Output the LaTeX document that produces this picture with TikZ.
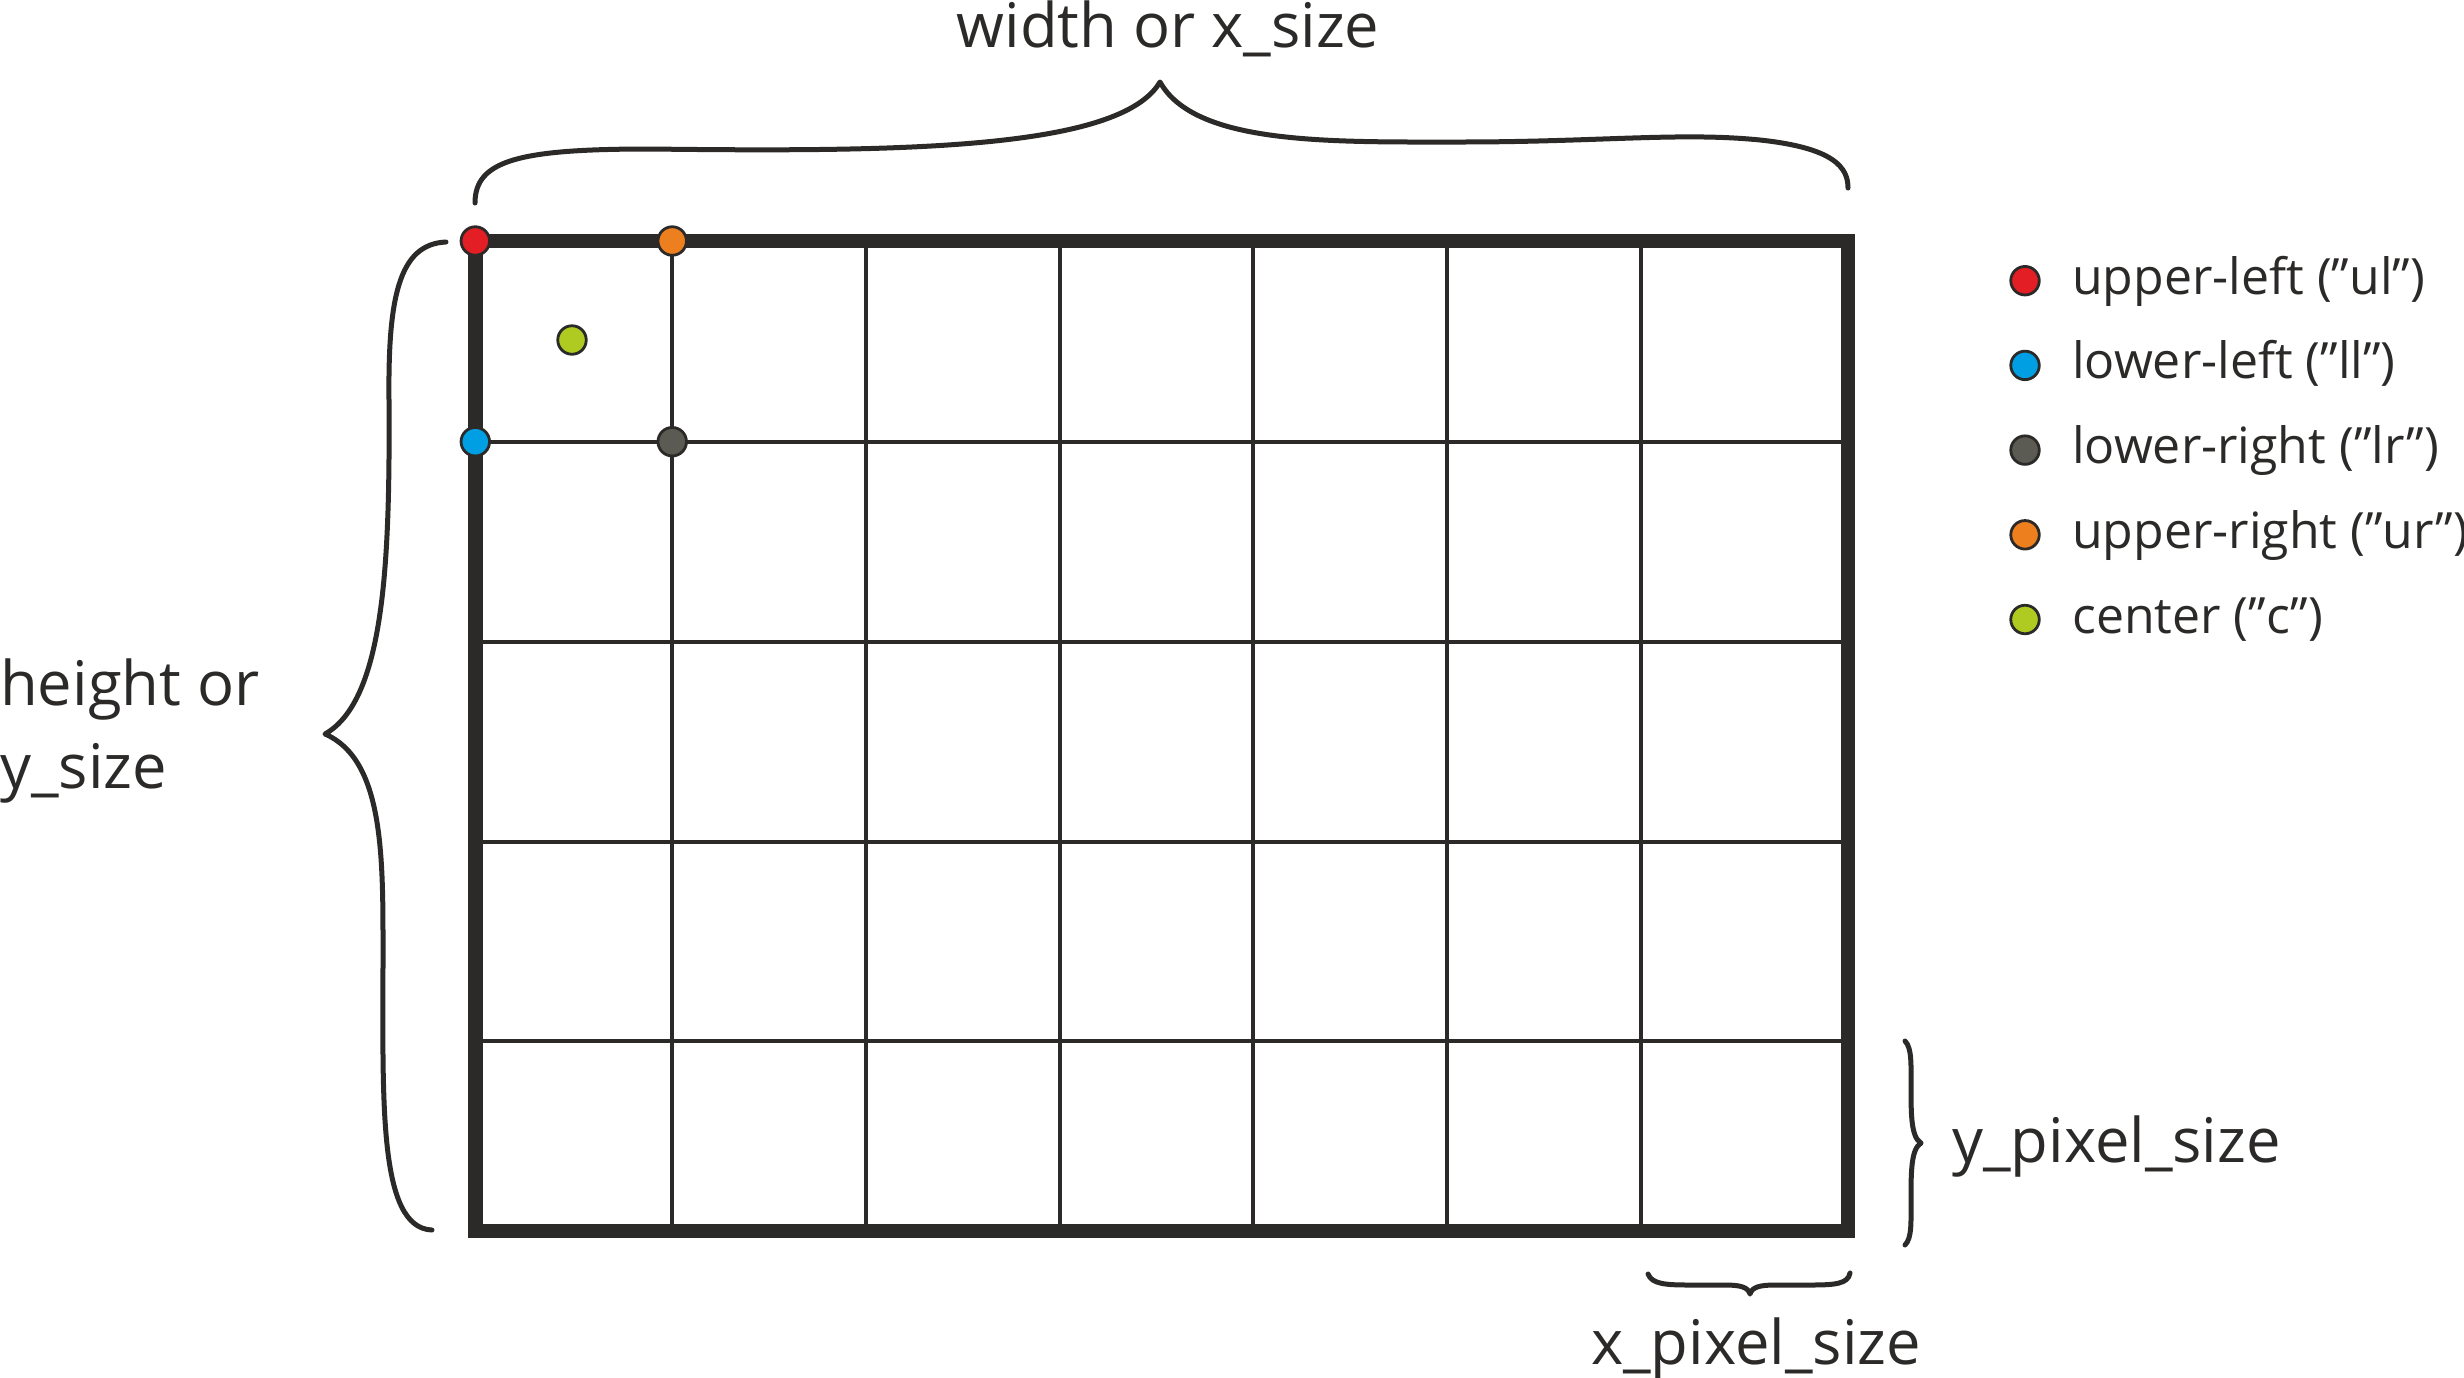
\documentclass[tikz,border=0pt]{standalone}
\usepackage{fontspec}
\setmainfont{Open Sans}
\definecolor{ink}{HTML}{2B2A28}
\definecolor{cred}{HTML}{E31E24}
\definecolor{cblue}{HTML}{009FE3}
\definecolor{cgray}{HTML}{5B5B53}
\definecolor{corange}{HTML}{EE7F1F}
\definecolor{cgreen}{HTML}{AFCA21}
\tikzset{
  gridline/.style={draw=ink, line width=4pt},
  border/.style={draw=ink, line width=14.5pt, line join=miter},
  brace/.style={draw=ink, line width=5pt, line cap=round, line join=round},
  dot/.style={circle, draw=ink, line width=2.8pt, minimum size=28.5pt, inner sep=0pt},
  lbl/.style={text=ink, inner sep=0pt, font=\fontsize{61.5pt}{74pt}\selectfont},
  leg/.style={text=ink, inner sep=0pt, anchor=base west, font=\fontsize{50pt}{60pt}\selectfont},
}
\begin{document}
\begin{tikzpicture}[x=1pt, y=-1pt]
\useasboundingbox (0,0) rectangle (2464,1377);
% inner grid lines
\foreach \gx in {672.2,865.9,1059.5,1253.2,1446.8,1640.5}
  \draw[gridline] (\gx,241) -- (\gx,1230.8);
\foreach \gy in {441.7,641.6,841.5,1041.4}
  \draw[gridline] (475.3,\gy) -- (1848,\gy);
% outer border
\draw[border] (475.3,241) rectangle (1848,1230.8);
% corner dots
\node[dot, fill=cred] (ul) at (475.3,241) {};
\node[dot, fill=corange] (ur) at (672.2,241) {};
\node[dot, fill=cblue] (ll) at (475.3,441.7) {};
\node[dot, fill=cgray] (lr) at (672.2,441.7) {};
\node[dot, fill=cgreen] (c) at (572,340) {};
% top brace
\draw[brace] (475,203) .. controls (475,160) and (520,149) .. (650,149)
  .. controls (900,152) and (1120,150) .. (1160,82)
  .. controls (1195,145) and (1330,142) .. (1460,142)
  .. controls (1600,142) and (1680,132) .. (1760,140)
  .. controls (1835,148) and (1848,168) .. (1848,188);
% left brace
\draw[brace] (446,242) .. controls (398,244) and (388,300) .. (389,400)
  .. controls (390,560) and (385,700) .. (325,734)
  .. controls (385,760) and (383,860) .. (383,960)
  .. controls (383,1100) and (378,1228) .. (432,1230);
% y pixel brace
\draw[brace] (1905,1041) .. controls (1912,1048) and (1911,1065) .. (1911,1085)
  .. controls (1911,1115) and (1911,1137) .. (1921,1143)
  .. controls (1911,1149) and (1911,1172) .. (1911,1200)
  .. controls (1911,1222) and (1912,1238) .. (1905,1245);
% x pixel brace
\draw[brace] (1648,1274) .. controls (1652,1284) and (1665,1285) .. (1690,1285)
  -- (1725,1285) .. controls (1740,1285) and (1748,1287) .. (1750,1294)
  .. controls (1752,1287) and (1760,1285) .. (1775,1285)
  -- (1810,1285) .. controls (1835,1285) and (1848,1284) .. (1850,1273);
% labels
\node[lbl, anchor=base] (wlabel) at (1168,47) {width or x\_size};
\node[lbl, anchor=base west] (hlabel) at (0,705) {height or};
\node[lbl, anchor=base west] (hlabelb) at (0,788) {y\_size};
\node[lbl, anchor=base west] (ypx) at (1952,1162) {y\_pixel\_size};
\node[lbl, anchor=base] (xpx) at (1756,1364) {x\_pixel\_size};
% legend
\node[dot, fill=cred] (kul) at (2025,280.7) {};
\node[dot, fill=cblue] (kll) at (2025,365.4) {};
\node[dot, fill=cgray] (klr) at (2025,450.1) {};
\node[dot, fill=corange] (kur) at (2025,534.8) {};
\node[dot, fill=cgreen] (kc) at (2025,619.5) {};
\node[leg] (tul) at (2072,294.2) {upper-left (”ul”)};
\node[leg] (tll) at (2072,378.9) {lower-left (”ll”)};
\node[leg] (tlr) at (2072,463.6) {lower-right (”lr”)};
\node[leg] (tur) at (2072,548.3) {upper-right (”ur”)};
\node[leg] (tc) at (2072,633) {center (”c”)};
\end{tikzpicture}
\end{document}
